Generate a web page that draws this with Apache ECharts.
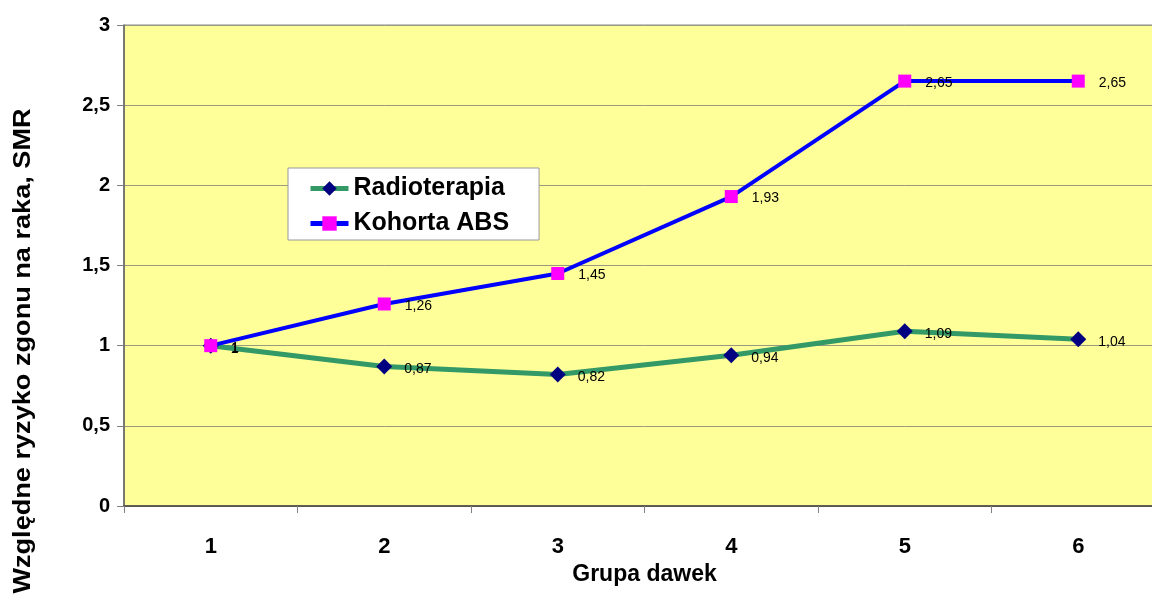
<!DOCTYPE html>
<html>
<head>
<meta charset="utf-8">
<script src="https://cdn.jsdelivr.net/npm/echarts@6/dist/echarts.min.js"></script>
<style>
  html, body { margin: 0; padding: 0; background: #ffffff; overflow: hidden; }
  /* the plot area runs slightly past the right edge of the view */
  #chart { width: 1165px; height: 596px; }
</style>
</head>
<body>
<div id="chart"></div>
<script>
// Dose groups and standardized mortality ratios (SMR)
const categories = ['1', '2', '3', '4', '5', '6'];
const radioterapia = [1, 0.87, 0.82, 0.94, 1.09, 1.04];
const kohortaABS = [1, 1.26, 1.45, 1.93, 2.65, 2.65];
const yTicks = [0, 0.5, 1, 1.5, 2, 2.5, 3];

const FONT = 'Arial, "Liberation Sans", sans-serif';
const fmt = v => String(v).replace('.', ',');

const chart = echarts.init(document.getElementById('chart'));

chart.setOption({
  animation: false,
  backgroundColor: '#ffffff',
  textStyle: { fontFamily: FONT },
  grid: {
    left: 124, right: 0, top: 25, bottom: 90,
    show: true,
    backgroundColor: '#FFFF99',
    borderColor: '#888888',
    borderWidth: 1,
    containLabel: false
  },
  legend: {
    orient: 'vertical',
    left: 288, top: 168,
    backgroundColor: '#ffffff',
    borderColor: '#999999',
    borderWidth: 1,
    padding: [8, 30, 4, 20],
    itemGap: 10,
    itemWidth: 38,
    itemHeight: 18,
    lineStyle: { width: 5 },
    textStyle: { fontFamily: FONT, fontSize: 25, fontWeight: 'bold', color: '#000' },
    data: ['Radioterapia', 'Kohorta ABS']
  },
  xAxis: {
    type: 'category',
    data: categories,
    boundaryGap: true,
    name: 'Grupa dawek',
    nameLocation: 'middle',
    nameGap: 56,
    nameTextStyle: { fontFamily: FONT, fontSize: 23, fontWeight: 'bold', color: '#000' },
    axisLine: { lineStyle: { color: '#404040', width: 1.5 } },
    axisTick: { show: true, length: 7, lineStyle: { color: '#808080' } },
    axisLabel: { margin: 30, fontFamily: FONT, fontSize: 22, fontWeight: 'bold', color: '#000' },
    splitLine: { show: false }
  },
  yAxis: {
    type: 'value',
    min: 0, max: 3, interval: 0.5,
    axisLine: { show: true, lineStyle: { color: '#606060', width: 1.5 } },
    axisTick: { show: true, length: 7, lineStyle: { color: '#808080' } },
    axisLabel: {
      margin: 14, fontFamily: FONT, fontSize: 20, fontWeight: 'bold', color: '#000',
      formatter: v => yTicks.includes(v) ? fmt(v) : ''
    },
    splitLine: { show: true, lineStyle: { color: '#9a9a80', width: 1 } }
  },
  graphic: [{
    type: 'text',
    x: 23, y: 351,
    rotation: Math.PI / 2,
    style: {
      text: 'Względne ryzyko zgonu na raka, SMR',
      fontFamily: FONT, fontSize: 24, fontWeight: 'bold', fill: '#000',
      align: 'center', verticalAlign: 'middle'
    },
    scaleX: 1.13
  }],
  series: [
    {
      name: 'Radioterapia',
      type: 'line',
      data: radioterapia,
      symbol: 'diamond',
      symbolSize: 16,
      lineStyle: { color: '#339966', width: 5 },
      itemStyle: { color: '#000080', borderWidth: 0 },
      label: {
        show: true, position: 'right', distance: 12, offset: [0, 3],
        fontFamily: FONT, fontSize: 14, color: '#000',
        formatter: p => fmt(p.value)
      },
      z: 2
    },
    {
      name: 'Kohorta ABS',
      type: 'line',
      data: kohortaABS,
      symbol: 'rect',
      symbolSize: 13,
      lineStyle: { color: '#0000FF', width: 4 },
      itemStyle: { color: '#FF00FF', borderWidth: 0 },
      label: {
        show: true, position: 'right', distance: 14, offset: [0, 2],
        fontFamily: FONT, fontSize: 14, color: '#000',
        formatter: p => fmt(p.value)
      },
      z: 3
    }
  ]
});
</script>
</body>
</html>
